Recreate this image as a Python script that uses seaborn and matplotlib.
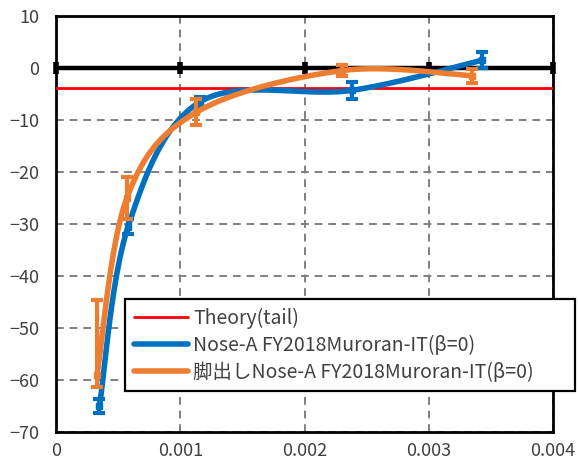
import numpy as np
import pandas as pd
import seaborn as sns
import matplotlib.pyplot as plt

# values
theory_y = -3.8
blue_x = [0.00035, 0.00058, 0.00116, 0.00238, 0.00343]
blue_y = [-65.0, -30.5, -6.5, -4.3, 1.5]
blue_err = [1.3, 1.5, 1.0, 1.7, 1.5]
orange_x = [0.00033, 0.00057, 0.00113, 0.0023, 0.00335]
orange_y = [-59.0, -25.0, -8.5, -0.5, -1.5]
orange_err_low = [2.3, 4.0, 2.5, 1.0, 1.3]
orange_err_high = [14.4, 4.0, 2.5, 1.0, 1.3]
xticks = [0, 0.001, 0.002, 0.003, 0.004]
xtick_labels = ['0', '0.001', '0.002', '0.003', '0.004']
yticks = list(range(-70, 11, 10))

labels = ['Theory(tail)',
          'Nose-A FY2018Muroran-IT(β=0)',
          '脚出しNose-A FY2018Muroran-IT(β=0)']
colors = ['#ff0000', '#0070c0', '#ed7d31']


def smooth(xs, ys, n=40):
    # excel-like smoothed line (catmull-rom bezier through the points)
    p = np.column_stack([xs, ys])
    p = np.vstack([p[0], p, p[-1]])
    out = []
    t = np.linspace(0, 1, n)[:, None]
    for i in range(1, len(p) - 2):
        p0, p1, p2, p3 = p[i - 1], p[i], p[i + 1], p[i + 2]
        c1 = p1 + (p2 - p0) / 6
        c2 = p2 - (p3 - p1) / 6
        seg = ((1 - t) ** 3 * p1 + 3 * (1 - t) ** 2 * t * c1
               + 3 * (1 - t) * t ** 2 * c2 + t ** 3 * p2)
        out.append(seg if i == 1 else seg[1:])
    out = np.vstack(out)
    return out[:, 0], out[:, 1]


def main():
    sns.set_style('white')
    plt.rcParams['font.family'] = ['Noto Sans CJK JP', 'DejaVu Sans']

    fig = plt.figure(figsize=(5.78, 4.70), dpi=100)
    ax = fig.add_axes([56 / 578, 1 - 432 / 470, 497 / 578, 416 / 470])

    ax.set_xlim(0, 0.004)
    ax.set_ylim(-70, 10)
    ax.set_xticks(xticks)
    ax.set_xticklabels(xtick_labels)
    ax.set_yticks(yticks)
    ax.tick_params(length=0, labelsize=13, colors='#404040')
    ax.tick_params(axis='y', pad=12)
    ax.tick_params(axis='x', pad=7)
    ax.grid(True, color='#808080', linestyle=(0, (4, 3)), linewidth=1.4)
    for s in ax.spines.values():
        s.set_color('black')
        s.set_linewidth(2)

    # axis line at zero with cross ticks
    ax.axhline(0, color='black', linewidth=3.2, zorder=3)
    ax.plot(xticks, [0] * len(xticks), linestyle='none', marker='|',
            markersize=9, markeredgewidth=4, color='black', zorder=3,
            clip_on=False)

    ax.axhline(theory_y, color=colors[0], linewidth=2, zorder=4,
               label=labels[0])

    series = [(blue_x, blue_y, [blue_err, blue_err], colors[1], labels[1], 5),
              (orange_x, orange_y, [orange_err_low, orange_err_high], colors[2], labels[2], 6)]
    for xs, ys, err, c, lab, z in series:
        sx, sy = smooth(xs, ys)
        df = pd.DataFrame({'x': sx, 'y': sy})
        sns.lineplot(data=df, x='x', y='y', sort=False, color=c, linewidth=4,
                     solid_capstyle='round', ax=ax, label=lab, zorder=z)
        ax.errorbar(xs, ys, yerr=err, fmt='s', markersize=4, color=c,
                    ecolor=c, elinewidth=3, capsize=4, capthick=3, zorder=z)

    ax.set_xlabel('')
    ax.set_ylabel('')

    leg = ax.legend(loc='upper left',
                    bbox_to_anchor=(125 / 578, 1 - 299 / 470, 450 / 578, 0),
                    bbox_transform=fig.transFigure, mode='expand',
                    fontsize=14, frameon=True, fancybox=False,
                    edgecolor='black', framealpha=1, handlelength=2.8,
                    handletextpad=0.25, borderpad=0.45, labelspacing=0.3,
                    borderaxespad=0)
    leg.get_frame().set_linewidth(1.6)
    for t in leg.get_texts():
        t.set_color('#404040')
    for h in leg.get_lines():
        h.set_solid_capstyle('round')

    fig.savefig('out.png', dpi=100)


if __name__ == '__main__':
    main()
